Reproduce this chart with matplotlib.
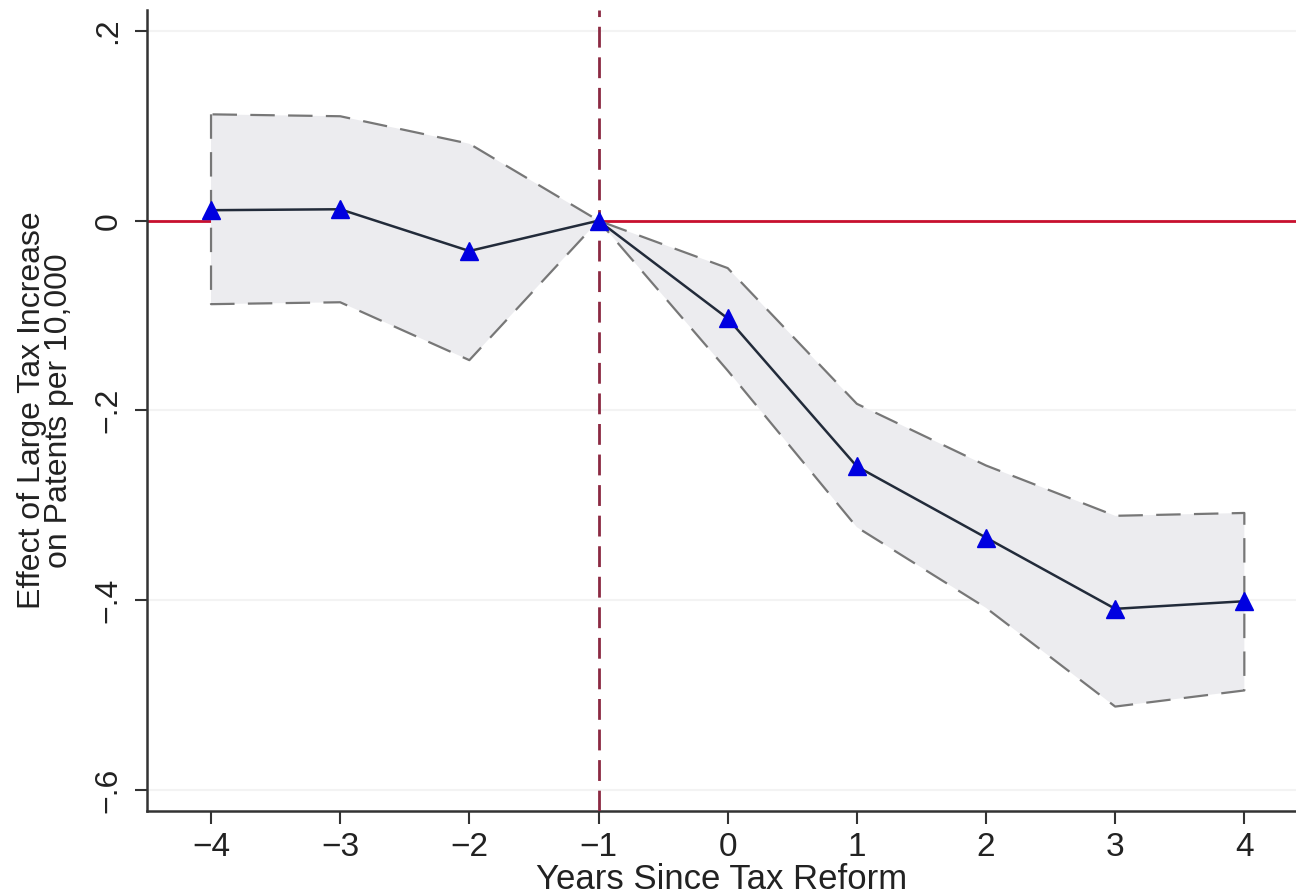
import matplotlib
matplotlib.use("Agg")
import matplotlib.pyplot as plt
import matplotlib.ticker as ticker

plt.rcParams["font.family"] = ["Liberation Sans", "DejaVu Sans"]

# Event-study estimates and 95% confidence bounds
years = [-4, -3, -2, -1, 0, 1, 2, 3, 4]
effect = [0.011, 0.012, -0.032, 0.0, -0.103, -0.259, -0.334, -0.409, -0.401]
ci_upper = [0.112, 0.110, 0.081, 0.0, -0.050, -0.193, -0.258, -0.311, -0.308]
ci_lower = [-0.088, -0.086, -0.147, 0.0, -0.158, -0.323, -0.408, -0.512, -0.495]

y_ticks = [0.2, 0.0, -0.2, -0.4, -0.6]


def stata_fmt(v, _):
    if abs(v) < 1e-9:
        return "0"
    s = f"{abs(v):.1f}".lstrip("0")
    return ("\u2212" if v < 0 else "") + s


fig = plt.figure(figsize=(12.96, 8.96), dpi=100)
ax = fig.add_axes([0.1134, 0.0949, 0.8866, 0.894])

for yt in y_ticks:
    ax.axhline(yt, color="#f3f3f3", linewidth=1.5, zorder=0)

ax.axhline(0, color="#c8102e", linewidth=2, zorder=1)

ax.fill_between(years, ci_lower, ci_upper, facecolor="#ececef",
                edgecolor="#777777", linestyle=(0, (11, 6)), linewidth=1.6,
                zorder=2)

ax.axvline(-1, color="#8b2942", linewidth=2, linestyle=(0, (7.5, 3.5)),
           zorder=3)

ax.plot(years, effect, color="#222b3a", linewidth=1.8, marker="^",
        markersize=13, markerfacecolor="#0000e0", markeredgecolor="#0000e0",
        zorder=4)

ax.set_xlim(-4.496, 4.40)
ax.set_ylim(-0.622, 0.222)
ax.set_xticks(years)
ax.set_yticks(y_ticks)
ax.xaxis.set_major_formatter(ticker.FuncFormatter(
    lambda v, _: ("\u2212" if v < 0 else "") + f"{abs(int(v))}"))
ax.yaxis.set_major_formatter(ticker.FuncFormatter(stata_fmt))

for side in ("top", "right"):
    ax.spines[side].set_visible(False)
for side in ("left", "bottom"):
    ax.spines[side].set_color("#333333")
    ax.spines[side].set_linewidth(1.8)

ax.tick_params(axis="both", direction="out", length=9, width=1.5,
               color="#333333", labelcolor="#222222")
ax.tick_params(axis="x", labelsize=24, pad=6)
ax.tick_params(axis="y", labelsize=23, pad=8)
for lbl in ax.get_yticklabels():
    lbl.set_rotation(90)
    lbl.set_verticalalignment("center")

ax.set_xlabel("Years Since Tax Reform", fontsize=25, color="#222222",
              labelpad=0)
ax.set_ylabel("Effect of Large Tax Increase\non Patents per 10,000",
              fontsize=23, color="#222222", linespacing=0.85, labelpad=14)

fig.savefig("out.png", dpi=100)
